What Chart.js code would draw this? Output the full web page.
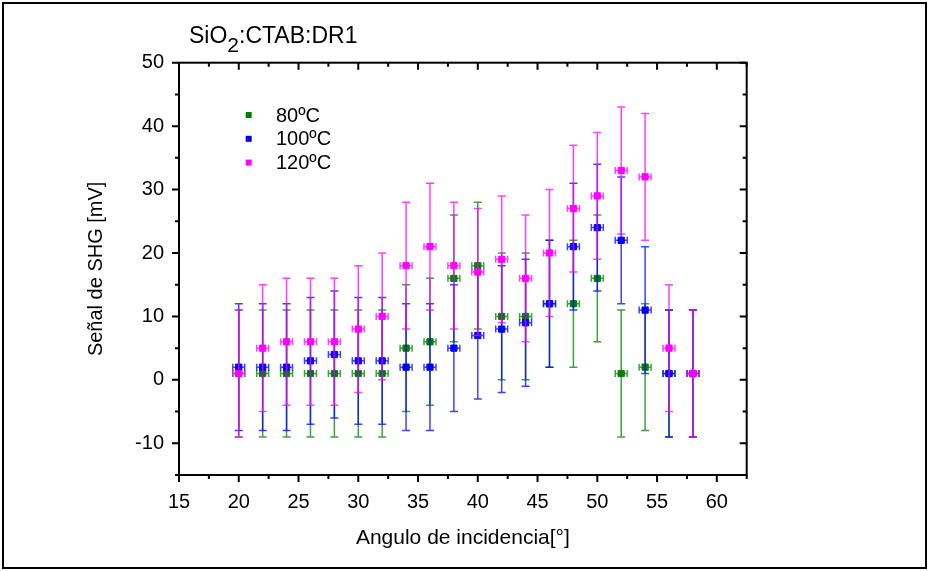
<!DOCTYPE html>
<html>
<head>
  <title>SiO2:CTAB:DR1 - SHG</title>
  <script src="https://cdn.jsdelivr.net/npm/chart.js"></script>
  <style>
    body { margin: 0; background: #fff; }
    #wrap { position: relative; width: 929px; height: 571px; }
    #frame { position: absolute; left: 2px; top: 2px; right: 2px; bottom: 2px; border: 2px solid #000; pointer-events: none; }
  </style>
</head>
<body>
<div id="wrap">
  <canvas id="myChart" width="929" height="571"></canvas>
  <div id="frame"></div>
</div>

<script>
  // angle of incidence (deg)
  const angles = [20, 22, 24, 26, 28, 30, 32, 34, 36, 38, 40, 42, 44, 46, 48, 50, 52, 54, 56, 58];
  // SHG signal (mV) per annealing temperature
  const sig80  = [1, 1, 1, 1, 1, 1, 1, 5, 6, 16, 18, 10, 10, 12, 12, 16, 1, 2, 1, 1];
  const sig100 = [2, 2, 2, 3, 4, 3, 3, 2, 2, 5, 7, 8, 9, 12, 21, 24, 22, 11, 1, 1];
  const sig120 = [1, 5, 6, 6, 6, 8, 10, 18, 21, 18, 17, 19, 16, 20, 27, 29, 33, 32, 5, 1];
  const yErr = 10;   // mV
  const xErr = 0.5;  // deg

  const seriesNames = ['80ºC', '100ºC', '120ºC'];
  const seriesColors = ['#008000', '#0000ff', '#ff00ff'];
  const errColors = ['rgba(0,128,0,0.75)', 'rgba(0,0,255,0.75)', 'rgba(255,0,255,0.75)'];

  const FONT = 'Liberation Sans, Arial, sans-serif';
  Chart.defaults.font.family = FONT;
  Chart.defaults.color = '#000';

  function toPoints(ys) {
    return angles.map((a, i) => ({ x: a, y: ys[i] }));
  }

  // vertical + horizontal error bars, drawn under each dataset's markers
  const errorBars = {
    id: 'errorBars',
    beforeDatasetDraw(chart, args) {
      const ds = chart.data.datasets[args.index];
      const xs = chart.scales.x, ys = chart.scales.y;
      const ctx = chart.ctx;
      ctx.save();
      ctx.strokeStyle = ds.errColor;
      ctx.lineWidth = 1.5;
      ds.data.forEach(p => {
        const px = xs.getPixelForValue(p.x), py = ys.getPixelForValue(p.y);
        const top = ys.getPixelForValue(p.y + yErr), bot = ys.getPixelForValue(p.y - yErr);
        const l = xs.getPixelForValue(p.x - xErr), r = xs.getPixelForValue(p.x + xErr);
        ctx.beginPath();
        ctx.moveTo(px, top); ctx.lineTo(px, bot);
        ctx.moveTo(px - 4, top); ctx.lineTo(px + 4, top);
        ctx.moveTo(px - 4, bot); ctx.lineTo(px + 4, bot);
        ctx.moveTo(l, py); ctx.lineTo(r, py);
        ctx.moveTo(l, py - 3.5); ctx.lineTo(l, py + 3.5);
        ctx.moveTo(r, py - 3.5); ctx.lineTo(r, py + 3.5);
        ctx.stroke();
      });
      ctx.restore();
    }
  };

  // axis box with outward ticks bottom/left and inward ticks top/right
  const axisBox = {
    id: 'axisBox',
    afterDatasetsDraw(chart) {
      const { ctx, chartArea: a, scales: { x, y } } = chart;
      ctx.save();
      ctx.strokeStyle = '#000';
      ctx.lineWidth = 2;
      ctx.strokeRect(a.left, a.top, a.right - a.left, a.bottom - a.top);
      ctx.beginPath();
      x.ticks.forEach(t => {
        const px = x.getPixelForValue(t.value);
        const len = t.value % 5 === 0 ? 7 : 4;
        ctx.moveTo(px, a.bottom); ctx.lineTo(px, a.bottom + len);
        ctx.moveTo(px, a.top); ctx.lineTo(px, a.top + len);
      });
      y.ticks.forEach(t => {
        const py = y.getPixelForValue(t.value);
        const len = t.value % 10 === 0 ? 7 : 4;
        ctx.moveTo(a.left, py); ctx.lineTo(a.left - len, py);
        ctx.moveTo(a.right, py); ctx.lineTo(a.right - len, py);
      });
      ctx.stroke();
      ctx.restore();
    }
  };

  // legend inside plot + title with subscript
  const legendAndTitle = {
    id: 'legendAndTitle',
    afterDraw(chart) {
      const { ctx, chartArea: a } = chart;
      ctx.save();
      ctx.textBaseline = 'middle';
      ctx.font = '20px ' + FONT;
      chart.data.datasets.forEach((ds, i) => {
        const cy = a.top + 52.3 + i * 23.8;
        ctx.fillStyle = ds.backgroundColor;
        ctx.fillRect(a.left + 66.7, cy - 3, 6, 6);
        ctx.fillStyle = '#000';
        ctx.fillText(ds.label, a.left + 97, cy + 1);
      });
      ctx.textBaseline = 'alphabetic';
      ctx.font = '23px ' + FONT;
      let tx = 189;
      const base = 43;
      ctx.fillText('SiO', tx, base);
      tx += ctx.measureText('SiO').width;
      ctx.font = '21px ' + FONT;
      ctx.fillText('2', tx, base + 9);
      tx += ctx.measureText('2').width;
      ctx.font = '23px ' + FONT;
      ctx.fillText(':CTAB:DR1', tx, base);
      ctx.restore();
    }
  };

  const datasets = [sig80, sig100, sig120].map((s, i) => ({
    label: seriesNames[i],
    data: toPoints(s),
    backgroundColor: seriesColors[i],
    borderColor: seriesColors[i],
    errColor: errColors[i],
    pointStyle: 'rect',
    pointRadius: 4.4,
    pointBorderWidth: 1,
    showLine: false,
    order: 3 - i
  }));

  const ctx = document.getElementById('myChart').getContext('2d');
  const myChart = new Chart(ctx, {
    type: 'scatter',
    data: { datasets: datasets },
    options: {
      responsive: false,
      animation: false,
      layout: { padding: { left: 84, top: 62.7, right: 182.3, bottom: 0 } },
      plugins: { legend: { display: false }, tooltip: { enabled: false } },
      scales: {
        x: {
          type: 'linear', min: 15, max: 62.5,
          grid: { display: false, drawTicks: false },
          border: { display: false },
          ticks: {
            stepSize: 2.5, autoSkip: false, maxRotation: 0, padding: 15,
            font: { size: 20 },
            callback: v => (v % 5 === 0 && v <= 60) ? v : ''
          },
          title: { display: true, text: 'Angulo de incidencia[°]', font: { size: 21 }, padding: { top: 0, bottom: 20 } },
          afterFit: s => { s.height = 96; }
        },
        y: {
          type: 'linear', min: -15, max: 50,
          grid: { display: false, drawTicks: false },
          border: { display: false },
          ticks: {
            stepSize: 5, autoSkip: false, padding: 15,
            font: { size: 20 },
            callback: v => v % 10 === 0 ? v : ''
          },
          title: { display: true, text: 'Señal de SHG [mV]', font: { size: 20 }, padding: { top: 0, bottom: 0 } },
          afterFit: s => { s.width = 95; }
        }
      }
    },
    plugins: [errorBars, axisBox, legendAndTitle]
  });
</script>
</body>
</html>
